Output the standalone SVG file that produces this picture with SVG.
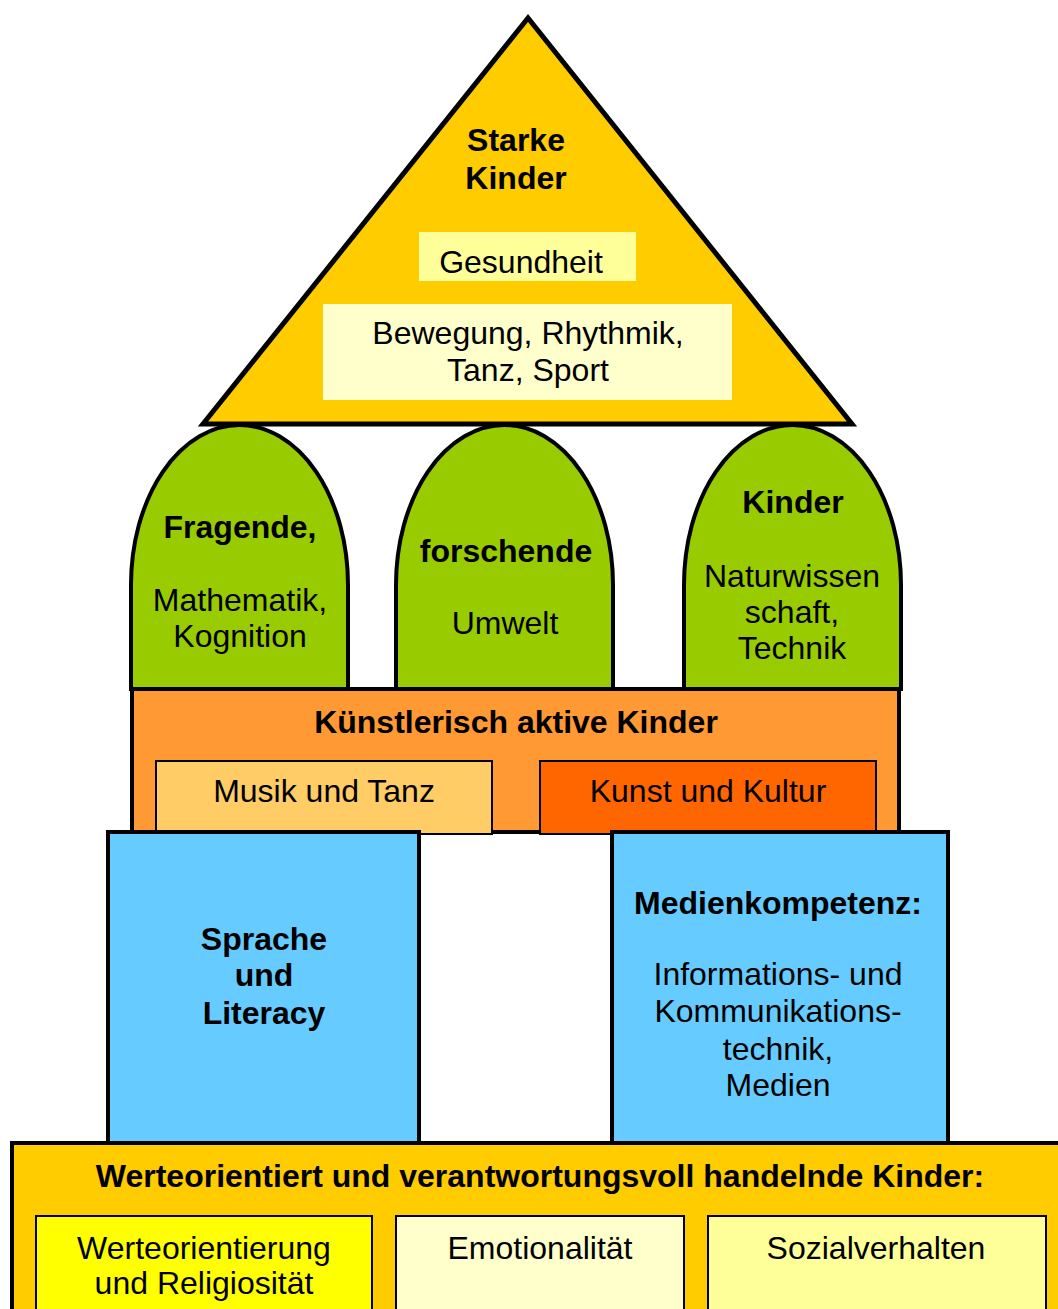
<svg xmlns="http://www.w3.org/2000/svg" width="1058" height="1309" viewBox="0 0 1058 1309">
<style>
text{font-family:"Liberation Sans",Arial,sans-serif;font-size:32px;fill:#000;text-anchor:middle}
.b{font-weight:bold}
.thick{stroke:#000;stroke-width:4}
.thin{stroke:#000;stroke-width:2}
</style>
<rect width="1058" height="1309" fill="#fff"/>
<g id="connectors"/>
<g id="arch-left">
<path class="thick" fill="#99CC00" d="M131,689 V585 A108.5,160 0 0 1 348,585 V689 Z"/>
<text class="b" x="240" y="538">Fragende,</text>
<text x="240" y="611">Mathematik,</text>
<text x="240" y="647">Kognition</text>
</g>
<g id="arch-middle">
<path class="thick" fill="#99CC00" d="M396,689 V585 A108.5,160 0 0 1 613,585 V689 Z"/>
<text class="b" x="506" y="562">forschende</text>
<text x="505" y="634">Umwelt</text>
</g>
<g id="arch-right">
<path class="thick" fill="#99CC00" d="M684,689 V585 A108.5,160 0 0 1 901,585 V689 Z"/>
<text class="b" x="793" y="513">Kinder</text>
<text x="792" y="587">Naturwissen</text>
<text x="792" y="623">schaft,</text>
<text x="792" y="659">Technik</text>
</g>
<g id="roof">
<polygon points="528,18 203,424 852,424" fill="#FFCC00" stroke="#000" stroke-width="5" stroke-linejoin="miter"/>
<text class="b" x="516" y="151">Starke</text>
<text class="b" x="516" y="189">Kinder</text>
<rect x="419" y="232" width="217" height="49" fill="#FFFF99"/>
<text x="521" y="273">Gesundheit</text>
<rect x="323" y="304" width="409" height="96" fill="#FFFFCC"/>
<text x="528" y="344">Bewegung, Rhythmik,</text>
<text x="528" y="381">Tanz, Sport</text>
</g>
<g id="kuenstlerisch">
<rect class="thick" x="132" y="689" width="767" height="143" fill="#FF9933"/>
<text class="b" x="516" y="733">Künstlerisch aktive Kinder</text>
</g>
<g id="musik">
<rect class="thin" x="156" y="761" width="336" height="73" fill="#FFCC66"/>
<text x="324" y="802">Musik und Tanz</text>
</g>
<g id="kunst">
<rect class="thin" x="540" y="761" width="336" height="73" fill="#FF6600"/>
<text x="708" y="802">Kunst und Kultur</text>
</g>
<g id="sprache">
<rect class="thick" x="108" y="832" width="311" height="311" fill="#66CCFF"/>
<text class="b" x="264" y="950">Sprache</text>
<text class="b" x="264" y="986">und</text>
<text class="b" x="264" y="1024">Literacy</text>
</g>
<g id="medien">
<rect class="thick" x="612" y="832" width="336" height="311" fill="#66CCFF"/>
<text class="b" x="778" y="914">Medienkompetenz:</text>
<text x="778" y="985">Informations- und</text>
<text x="778" y="1022">Kommunikations-</text>
<text x="778" y="1060">technik,</text>
<text x="778" y="1096">Medien</text>
</g>
<g id="werte-band">
<rect class="thick" x="12" y="1143" width="1060" height="200" fill="#FFCC00"/>
<text class="b" x="540" y="1187">Werteorientiert und verantwortungsvoll handelnde Kinder:</text>
</g>
<g id="werteorientierung">
<rect class="thin" x="36" y="1216" width="336" height="110" fill="#FFFF00"/>
<text x="204" y="1259">Werteorientierung</text>
<text x="204" y="1294">und Religiosität</text>
</g>
<g id="emotionalitaet">
<rect class="thin" x="396" y="1216" width="288" height="110" fill="#FFFFCC"/>
<text x="540" y="1259">Emotionalität</text>
</g>
<g id="sozialverhalten">
<rect class="thin" x="708" y="1216" width="338" height="110" fill="#FFFF99"/>
<text x="876" y="1259">Sozialverhalten</text>
</g>
</svg>
